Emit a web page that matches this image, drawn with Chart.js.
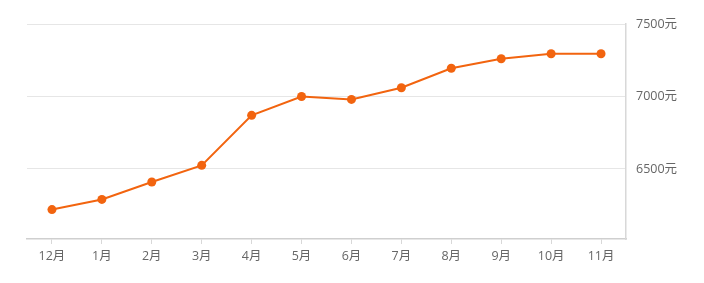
<!DOCTYPE html>
<html>
<head>
<meta charset="utf-8">
<script src="https://cdn.jsdelivr.net/npm/chart.js@4/dist/chart.umd.min.js"></script>
<style>
  html, body { margin: 0; padding: 0; background: #fff; }
  #wrap { width: 704px; height: 283px; position: relative; }
</style>
</head>
<body>
<div id="wrap"><canvas id="priceChart"></canvas></div>
<script>
  // monthly price, 元
  const months = ['12月', '1月', '2月', '3月', '4月', '5月', '6月', '7月', '8月', '9月', '10月', '11月'];
  const prices = [6220, 6290, 6410, 6525, 6870, 7000, 6980, 7060, 7195, 7260, 7295, 7295];
  const yTicks = [6500, 7000, 7500];
  const yMin = 6017;
  const yMax = 7500;

  const orange = '#f2640f';
  const labelFont = { family: '"Open Sans", "Noto Sans CJK SC", sans-serif', size: 12.5 };

  new Chart(document.getElementById('priceChart'), {
    type: 'line',
    data: {
      labels: months,
      datasets: [{
        data: prices,
        borderColor: orange,
        backgroundColor: orange,
        borderWidth: 2,
        tension: 0,
        pointRadius: 4.5,
        pointHoverRadius: 4.5,
        pointBorderWidth: 0,
        pointBackgroundColor: orange
      }]
    },
    options: {
      responsive: true,
      maintainAspectRatio: false,
      animation: false,
      layout: {
        padding: { left: 27, top: 24, right: 0, bottom: 0 }
      },
      plugins: {
        legend: { display: false },
        tooltip: { enabled: false }
      },
      scales: {
        x: {
          offset: true,
          grid: {
            offset: false,
            drawOnChartArea: false,
            drawTicks: true,
            tickLength: 5,
            color: '#d8d8d8'
          },
          border: { display: true, color: '#cfcfcf', width: 1.5 },
          ticks: {
            color: '#666',
            font: labelFont,
            padding: 5,
            maxRotation: 0,
            autoSkip: false
          },
          afterFit: function (axis) { axis.height = 44; }
        },
        y: {
          position: 'right',
          min: yMin,
          max: yMax,
          afterBuildTicks: function (axis) {
            axis.ticks = yTicks.map(v => ({ value: v }));
          },
          grid: {
            drawTicks: false,
            tickLength: 0,
            color: '#e6e6e6'
          },
          border: { display: true, color: '#d8d8d8', width: 1.5 },
          ticks: {
            color: '#666',
            font: labelFont,
            padding: 10,
            callback: v => v + '元'
          },
          afterFit: function (axis) { axis.width = 78; }
        }
      }
    }
  });
</script>
</body>
</html>
